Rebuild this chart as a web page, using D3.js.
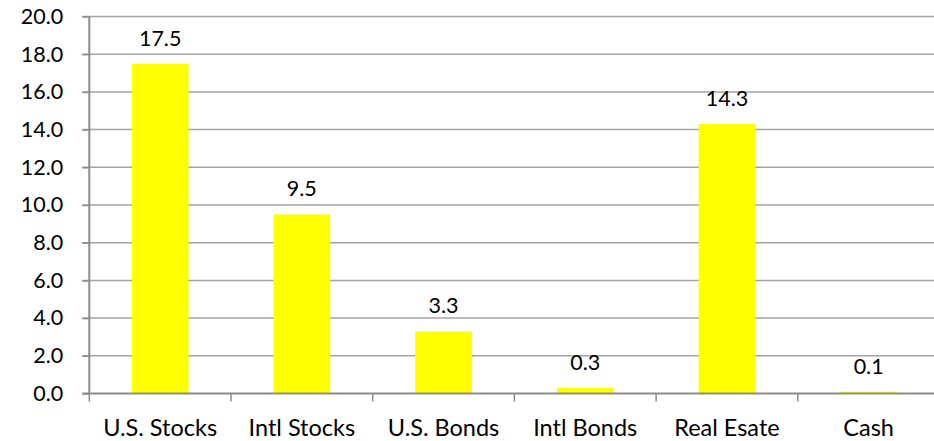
<!DOCTYPE html>
<html>
<head>
<meta charset="utf-8">
<script src="https://cdn.jsdelivr.net/npm/d3@7"></script>
<style>
  html, body { margin: 0; padding: 0; background: #fff; }
  svg { display: block; }
  text { font-family: "Lato", "Open Sans", sans-serif; fill: #000; }
</style>
</head>
<body>
<div id="chart"></div>
<script>
// Asset classes and their returns (%)
const categories = ["U.S. Stocks", "Intl Stocks", "U.S. Bonds", "Intl Bonds", "Real Esate", "Cash"];
const values = [17.5, 9.5, 3.3, 0.3, 14.3, 0.1];
const yTicks = [0, 2, 4, 6, 8, 10, 12, 14, 16, 18, 20];

const width = 934, height = 441;
const plotLeft = 89.3, plotRight = 939.5, plotTop = 16.5, plotBottom = 393.5;

const svg = d3.select("#chart").append("svg")
  .attr("width", width).attr("height", height);

const x = d3.scaleBand()
  .domain(categories)
  .range([plotLeft, plotRight])
  .paddingInner(0.6)
  .paddingOuter(0.3);

const y = d3.scaleLinear().domain([0, 20]).range([plotBottom, plotTop]);

// horizontal gridlines
svg.append("g")
  .selectAll("line")
  .data(yTicks.filter(d => d > 0))
  .join("line")
  .attr("x1", plotLeft - 7)
  .attr("x2", plotRight)
  .attr("y1", d => y(d))
  .attr("y2", d => y(d))
  .attr("stroke", "#a3a3a3")
  .attr("stroke-width", 1.5);

// bars
svg.append("g")
  .selectAll("rect")
  .data(values)
  .join("rect")
  .attr("x", (d, i) => x(categories[i]))
  .attr("width", x.bandwidth())
  .attr("y", d => y(d))
  .attr("height", d => y(0) - y(d))
  .attr("fill", "#ffff00");

// value labels
svg.append("g")
  .selectAll("text")
  .data(values)
  .join("text")
  .attr("x", (d, i) => x(categories[i]) + x.bandwidth() / 2)
  .attr("y", d => y(d) - 18)
  .attr("text-anchor", "middle")
  .style("font-size", "21.5px")
  .text(d => d.toFixed(1));

// y axis
const yAxis = svg.append("g")
  .attr("transform", `translate(${plotLeft},0)`)
  .call(d3.axisLeft(y).tickValues(yTicks).tickSize(7).tickPadding(19)
    .tickFormat(d => d.toFixed(1)));
yAxis.select(".domain").attr("stroke", "#8c8c8c").attr("stroke-width", 2)
  .attr("d", `M0,${plotTop}V${plotBottom}`);
yAxis.selectAll(".tick line").attr("stroke", "#8c8c8c").attr("stroke-width", 1.5);
yAxis.selectAll(".tick text").style("font-size", "21.5px").style("font-family", "Lato, 'Open Sans', sans-serif").attr("fill", "#000");

// x axis with tick marks between categories
const xAxis = svg.append("g")
  .attr("transform", `translate(0,${plotBottom})`);
xAxis.append("line")
  .attr("x1", plotLeft - 7).attr("x2", plotRight)
  .attr("stroke", "#8c8c8c").attr("stroke-width", 2);
const boundaries = categories.map(c => x(c) - x.step() * x.paddingInner() / 2)
  .concat([x(categories[categories.length - 1]) + x.bandwidth() + x.step() * x.paddingInner() / 2]);
xAxis.selectAll("line.tick")
  .data(boundaries)
  .join("line")
  .attr("class", "tick")
  .attr("x1", d => d).attr("x2", d => d)
  .attr("y1", 0).attr("y2", 8)
  .attr("stroke", "#8c8c8c").attr("stroke-width", 1.5);
xAxis.selectAll("text")
  .data(categories)
  .join("text")
  .attr("x", d => x(d) + x.bandwidth() / 2)
  .attr("y", 42)
  .attr("text-anchor", "middle")
  .style("font-size", "23.5px")
  .text(d => d);
</script>
</body>
</html>
